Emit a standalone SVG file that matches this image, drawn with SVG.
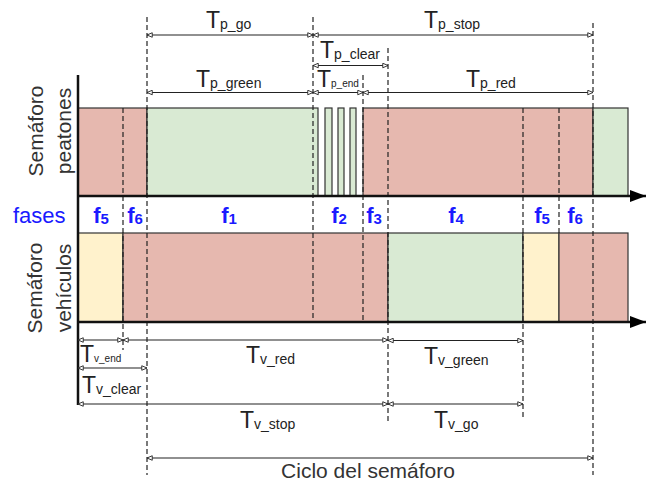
<svg xmlns="http://www.w3.org/2000/svg" width="668" height="483" viewBox="0 0 668 483">
<style>
.bg{fill:#ffffff}
.red{fill:#e6b8af;stroke:#333;stroke-width:1.2}
.grn{fill:#d9ead3;stroke:#333;stroke-width:1.2}
.yel{fill:#fff2cc;stroke:#333;stroke-width:1.2}
.axis{stroke:#111;stroke-width:2.5;fill:none}
.dash{stroke:#222;stroke-width:1.2;stroke-dasharray:5 3;fill:none}
.dim{stroke:#222;stroke-width:1.2;fill:none;marker-start:url(#ah);marker-end:url(#ah)}
.T{font-family:"Liberation Sans",Arial,sans-serif;font-size:23px;fill:#222}
.s{font-size:14px}
.ss{font-size:10px}
.lbl{font-family:"Liberation Sans",Arial,sans-serif;font-size:21px;fill:#333}
.fases{font-family:"Liberation Sans",Arial,sans-serif;font-size:22px;fill:#1a1aff}
.ph{font-family:"Liberation Sans",Arial,sans-serif;font-size:22px;font-weight:bold;fill:#1a1aff;text-anchor:middle}
.pd{font-size:15px}
</style>
<defs>
<marker id="ah" viewBox="0 0 8 8" refX="7.5" refY="4" markerWidth="6" markerHeight="6" markerUnits="userSpaceOnUse" orient="auto-start-reverse">
<path d="M0.5,1 L7.5,4 L0.5,7 Z" fill="#fff" stroke="#222" stroke-width="1.2"/>
</marker>
<marker id="bh" viewBox="0 0 16 12" refX="16" refY="6" markerWidth="17" markerHeight="12" markerUnits="userSpaceOnUse" orient="auto">
<path d="M0,0 L16,6 L0,12 Z" fill="#000"/>
</marker>
</defs>
<rect class="bg" x="0" y="0" width="668" height="483"/>

<g id="peatones">
<rect class="red" x="78" y="108" width="69" height="88"/>
<rect class="grn" x="147" y="108" width="171" height="88"/>
<rect class="grn" x="325" y="108" width="7" height="88"/>
<rect class="grn" x="338" y="108" width="6" height="88"/>
<rect class="grn" x="350" y="108" width="6" height="88"/>
<rect class="red" x="363" y="108" width="230" height="88"/>
<rect class="grn" x="593" y="108" width="35" height="88"/>
</g>

<g id="vehiculos">
<rect class="yel" x="78" y="233" width="45" height="89"/>
<rect class="red" x="123" y="233" width="265" height="89"/>
<rect class="grn" x="388" y="233" width="135" height="89"/>
<rect class="yel" x="523" y="233" width="36" height="89"/>
<rect class="red" x="559" y="233" width="69" height="89"/>
</g>

<g id="guides">
<line class="dash" x1="123" y1="108" x2="123" y2="350"/>
<line class="dash" x1="147" y1="17" x2="147" y2="475"/>
<line class="dash" x1="313" y1="17" x2="313" y2="322"/>
<line class="dash" x1="363" y1="75" x2="363" y2="322"/>
<line class="dash" x1="388" y1="48" x2="388" y2="422"/>
<line class="dash" x1="523" y1="108" x2="523" y2="419"/>
<line class="dash" x1="559" y1="108" x2="559" y2="233"/>
<line class="dash" x1="593" y1="23" x2="593" y2="475"/>
</g>

<g id="axes">
<line class="axis" x1="78" y1="75" x2="78" y2="405"/>
<line class="axis" x1="78" y1="196" x2="646" y2="196" marker-end="url(#bh)"/>
<line class="axis" x1="78" y1="322" x2="646" y2="322" marker-end="url(#bh)"/>
</g>

<g id="connectors">
<line class="dim" x1="147" y1="35" x2="313" y2="35"/>
<line class="dim" x1="313" y1="35" x2="593" y2="35"/>
<line class="dim" x1="313" y1="65.5" x2="388" y2="65.5"/>
<line class="dim" x1="147" y1="92.5" x2="313" y2="92.5"/>
<line class="dim" x1="313" y1="92.5" x2="363" y2="92.5"/>
<line class="dim" x1="363" y1="92.5" x2="593" y2="92.5"/>
<line class="dim" x1="78" y1="340" x2="123" y2="340"/>
<line class="dim" x1="123" y1="340" x2="388" y2="340"/>
<line class="dim" x1="388" y1="340.5" x2="523" y2="340.5"/>
<line class="dim" x1="78" y1="368" x2="147" y2="368"/>
<line class="dim" x1="78" y1="404" x2="388" y2="404"/>
<line class="dim" x1="388" y1="404" x2="523" y2="404"/>
<line class="dim" x1="147" y1="458" x2="593" y2="458"/>
</g>

<g id="labels-p">
<text class="T" x="206" y="28">T<tspan class="s" dy="1">p_go</tspan></text>
<text class="T" x="424" y="28">T<tspan class="s" dy="1">p_stop</tspan></text>
<text class="T" x="320" y="58">T<tspan class="s" dy="1">p_clear</tspan></text>
<text class="T" x="196" y="87">T<tspan class="s" dy="1">p_green</tspan></text>
<text class="T" x="317" y="87">T<tspan class="ss" dy="0">p_end</tspan></text>
<text class="T" x="466" y="87">T<tspan class="s" dy="1">p_red</tspan></text>
</g>

<g id="labels-v">
<text class="T" x="80" y="362">T<tspan class="ss" dy="0">v_end</tspan></text>
<text class="T" x="246" y="363">T<tspan class="s" dy="1">v_red</tspan></text>
<text class="T" x="424" y="364">T<tspan class="s" dy="1">v_green</tspan></text>
<text class="T" x="82" y="393">T<tspan class="s" dy="1">v_clear</tspan></text>
<text class="T" x="240" y="428">T<tspan class="s" dy="1">v_stop</tspan></text>
<text class="T" x="434" y="428">T<tspan class="s" dy="1">v_go</tspan></text>
<text class="lbl" x="368" y="478" text-anchor="middle">Ciclo del semáforo</text>
</g>

<g id="row-labels">
<text class="lbl" transform="translate(43,131) rotate(-90)" text-anchor="middle">Semáforo</text>
<text class="lbl" transform="translate(71,131) rotate(-90)" text-anchor="middle">peatones</text>
<text class="lbl" transform="translate(42,288) rotate(-90)" text-anchor="middle">Semáforo</text>
<text class="lbl" transform="translate(71,288) rotate(-90)" text-anchor="middle">vehículos</text>
</g>

<g id="fases">
<text class="fases" x="13" y="223">fases</text>
<text class="ph" x="101" y="223">f<tspan class="pd" dy="1">5</tspan></text>
<text class="ph" x="135" y="223">f<tspan class="pd" dy="1">6</tspan></text>
<text class="ph" x="229" y="223">f<tspan class="pd" dy="1">1</tspan></text>
<text class="ph" x="339" y="223">f<tspan class="pd" dy="1">2</tspan></text>
<text class="ph" x="374" y="223">f<tspan class="pd" dy="1">3</tspan></text>
<text class="ph" x="456" y="223">f<tspan class="pd" dy="1">4</tspan></text>
<text class="ph" x="542" y="223">f<tspan class="pd" dy="1">5</tspan></text>
<text class="ph" x="575" y="223">f<tspan class="pd" dy="1">6</tspan></text>
</g>
</svg>
